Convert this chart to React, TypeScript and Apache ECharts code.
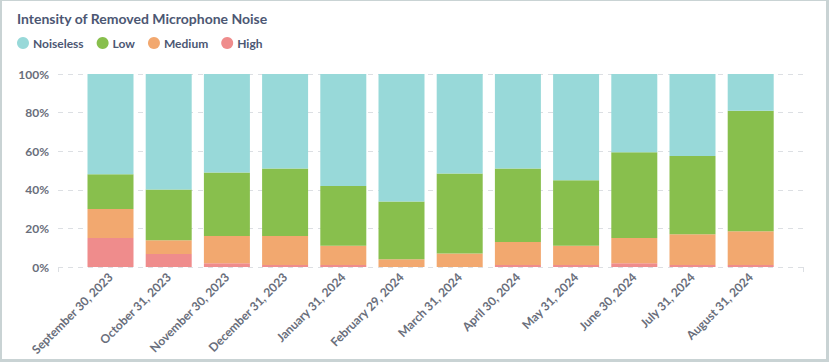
import React, { useEffect, useRef } from "react";
import * as echarts from "echarts";

const categories = [
  "September 30, 2023",
  "October 31, 2023",
  "November 30, 2023",
  "December 31, 2023",
  "January 31, 2024",
  "February 29, 2024",
  "March 31, 2024",
  "April 30, 2024",
  "May 31, 2024",
  "June 30, 2024",
  "July 31, 2024",
  "August 31, 2024",
];

const high = [15, 6.7, 2, 1, 1, 0, 0, 1, 1, 2, 1, 1];
const medium = [15, 7.2, 14, 15, 10, 4, 7, 12, 10, 13, 16, 17.5];
const low = [18, 26.3, 33, 35, 31, 30, 41.5, 38, 34, 44.5, 40.5, 62.5];
const noiseless = [52, 59.8, 51, 49, 58, 66, 51.5, 49, 55, 40.5, 42.5, 19];

const yTicks = [0, 20, 40, 60, 80, 100];

const COLORS = {
  Noiseless: "#98D9D9",
  Low: "#88BF4D",
  Medium: "#F2A86F",
  High: "#EF8C8C",
};

export default function App() {
  const ref = useRef<HTMLDivElement>(null);

  useEffect(() => {
    if (!ref.current) return;
    const chart = echarts.init(ref.current, null, { renderer: "svg" });
    const mk = (name: string, arr: number[]) => ({
      name,
      type: "bar",
      stack: "total",
      barWidth: 46,
      xAxisIndex: 1,
      yAxisIndex: 1,
      itemStyle: { color: (COLORS as any)[name] },
      data: arr,
    });
    const axisFont = {
      fontFamily: "Lato",
      fontSize: 12,
      fontWeight: "bold",
      color: "#696E7B",
    };
    chart.setOption({
      animation: false,
      textStyle: { fontFamily: "Lato" },
      title: {
        text: "Intensity of Removed Microphone Noise",
        left: 15,
        top: 10,
        padding: 0,
        textStyle: {
          fontFamily: "Lato",
          fontSize: 14,
          fontWeight: "bold",
          color: "#4C5773",
        },
      },
      legend: {
        data: ["Noiseless", "Low", "Medium", "High"],
        left: 15,
        top: 36,
        padding: 0,
        icon: "circle",
        itemWidth: 12,
        itemHeight: 12,
        itemGap: 13,
        textStyle: {
          fontFamily: "Lato",
          fontSize: 12,
          fontWeight: "bold",
          color: "#4C5773",
          padding: [0, 0, 0, -1],
        },
      },
      grid: [
        { left: 56, right: 23, top: 73, bottom: 92, containLabel: false },
        { left: 79.4, right: 46.2, top: 73, bottom: 92, containLabel: false },
      ],
      xAxis: [
        {
          type: "value",
          gridIndex: 0,
          min: 0,
          max: 1,
          interval: 1,
          splitLine: { show: false },
          axisLine: { show: false },
          axisTick: {
            show: true,
            length: 5,
            lineStyle: { color: "#DCDFE3" },
          },
          axisLabel: { show: false },
        },
        {
          type: "category",
          gridIndex: 1,
          data: categories,
          axisLine: { show: false },
          axisTick: { show: false },
          splitLine: { show: false },
          axisLabel: {
            ...axisFont,
            interval: 0,
            rotate: 45,
            margin: 8,
          },
        },
      ],
      yAxis: [
        {
          type: "value",
          gridIndex: 0,
          min: yTicks[0],
          max: yTicks[yTicks.length - 1],
          interval: 20,
          axisLine: { show: false },
          axisTick: { show: false },
          axisLabel: {
            ...axisFont,
            margin: 9,
            formatter: "{value}%",
          },
          splitLine: {
            lineStyle: { color: "#DCDFE3", type: [5, 5], width: 1 },
          },
        },
        {
          type: "value",
          gridIndex: 1,
          min: yTicks[0],
          max: yTicks[yTicks.length - 1],
          interval: 20,
          axisLine: { show: false },
          axisTick: { show: false },
          axisLabel: { show: false },
          splitLine: { show: false },
        },
      ],
      series: [
        mk("High", high),
        mk("Medium", medium),
        mk("Low", low),
        mk("Noiseless", noiseless),
      ],
    });
    return () => chart.dispose();
  }, []);

  return (
    <div
      style={{
        position: "fixed",
        left: 0,
        top: 0,
        width: 829,
        height: 362,
        background: "#C9D3D4",
      }}
    >
      <div
        style={{
          position: "absolute",
          left: 2,
          top: 1,
          width: 824,
          height: 358,
          background: "#FFFFFF",
        }}
      >
        <div ref={ref} style={{ width: 824, height: 358 }} />
      </div>
    </div>
  );
}
